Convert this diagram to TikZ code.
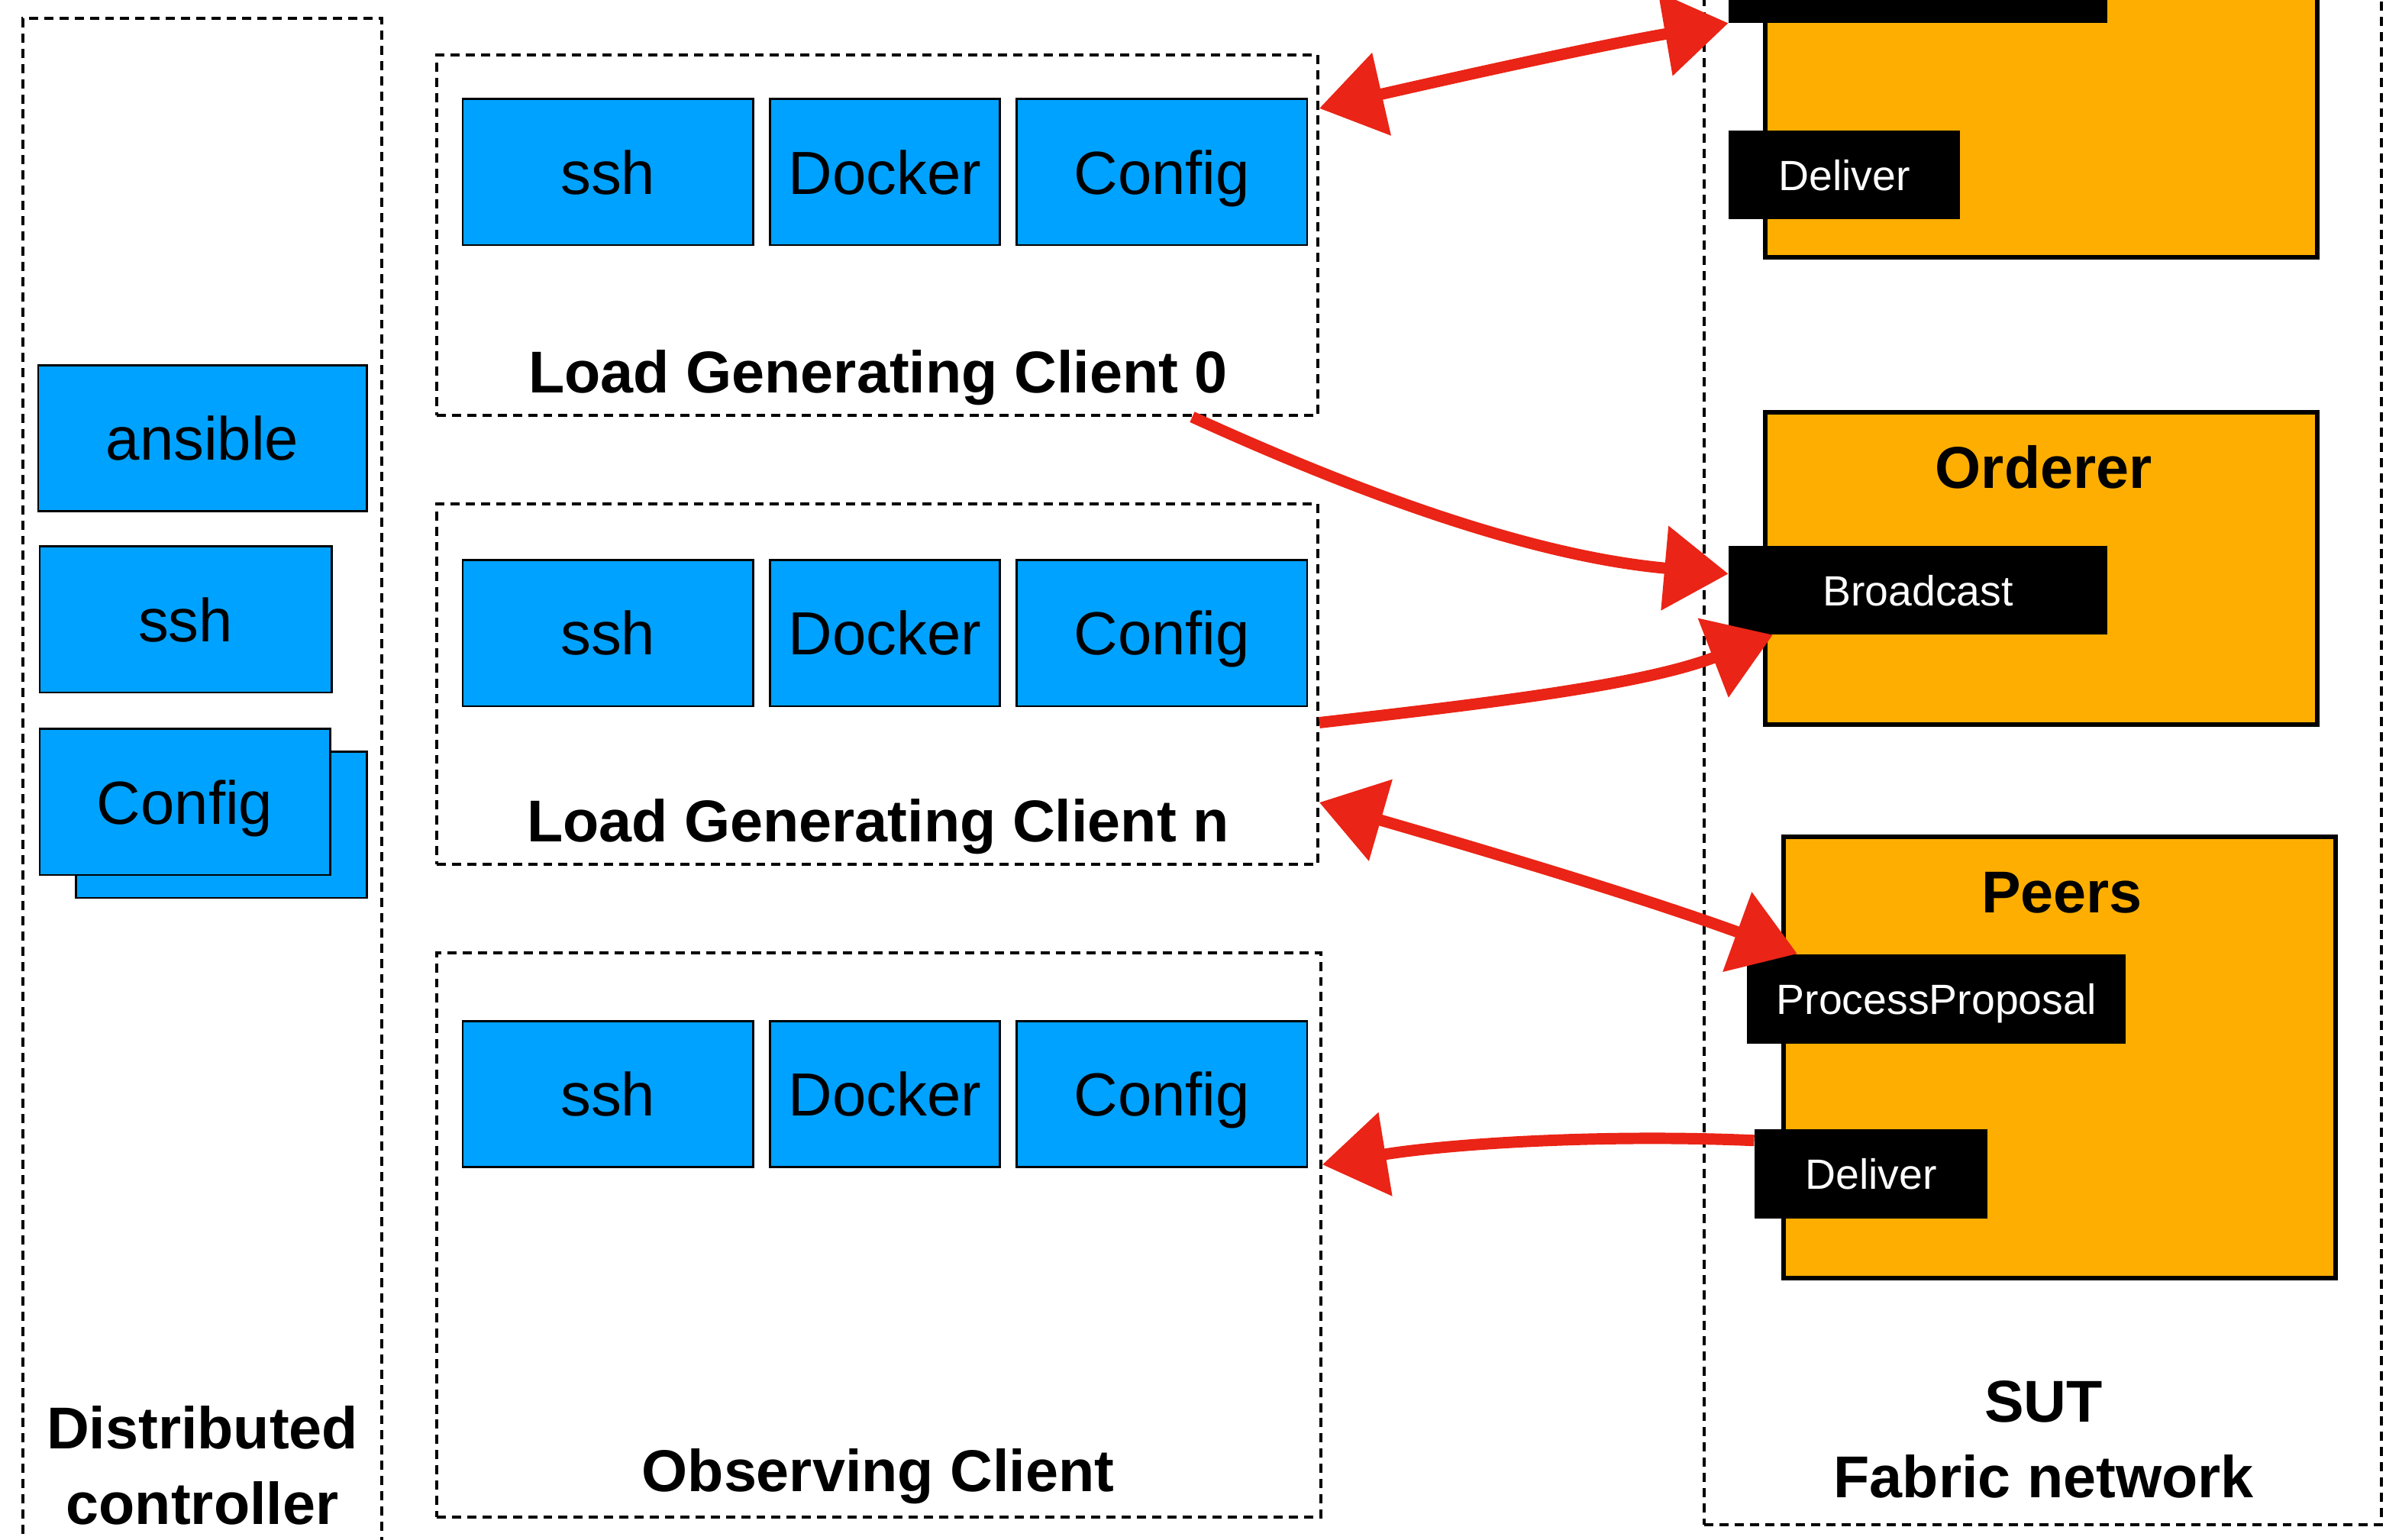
\documentclass[tikz,border=0pt]{standalone}
\usepackage{fontspec}
\setmainfont{Liberation Sans}
\usetikzlibrary{arrows.meta}
\definecolor{toolblue}{RGB}{0,162,255}
\definecolor{fabricorange}{RGB}{254,174,0}
\definecolor{sketchred}{RGB}{234,36,22}

\begin{document}
\begin{tikzpicture}[x=1pt,y=-1pt,
    groupbox/.style={draw,line width=2pt,dash pattern=on 6pt off 4pt,inner sep=0pt},
    toolbox/.style={draw,line width=1.2pt,fill=toolblue,inner sep=0pt,minimum height=96pt,
      text depth=0pt,font=\fontsize{40}{48}\selectfont},
    compbox/.style={draw,line width=3pt,fill=fabricorange,inner sep=0pt},
    apibox/.style={fill=black,text=white,inner sep=0pt,minimum height=59pt,
      text depth=0pt,font=\fontsize{27.8}{33}\selectfont},
    titletext/.style={font=\fontsize{38.8}{50}\selectfont\bfseries,align=center},
    callarrow/.style={sketchred,line width=7.5pt,-{Triangle[length=42pt,width=54pt]}},
    twowayarrow/.style={sketchred,line width=7.5pt,
      {Triangle[length=42pt,width=54pt]}-{Triangle[length=42pt,width=54pt]}}]
      \useasboundingbox (0,0) rectangle (1568,1012);
      \clip (0,0) rectangle (1568,1012);
      % Draw distributed controller
      \node (dc) at (133,526) [groupbox,minimum width=236pt,minimum height=1028pt] {};
      \node (ansible) at (133,288) [toolbox,minimum width=216pt] {ansible};
      \node (dcssh) at (122,407) [toolbox,minimum width=192pt] {ssh};
      \node (dcconfigback) at (145.5,542) [toolbox,minimum width=191pt] {};
      \node (dcconfig) at (121.5,527) [toolbox,minimum width=191pt] {Config};
      \node (dclabel) at (133,963) [titletext] {Distributed\\controller};
      % Draw load generating clients
      \node (lgc0) at (576.5,154.5) [groupbox,minimum width=579pt,minimum height=237pt] {};
      \node (ssh0) at (399.5,113) [toolbox,minimum width=191pt] {ssh};
      \node (docker0) at (581.5,113) [toolbox,minimum width=151pt] {Docker};
      \node (config0) at (763.5,113) [toolbox,minimum width=191pt] {Config};
      \node (lgc0label) at (577,258) [titletext,anchor=base] {Load Generating Client 0};
      \node (lgcn) at (576.5,449.5) [groupbox,minimum width=579pt,minimum height=237pt] {};
      \node (sshn) at (399.5,416) [toolbox,minimum width=191pt] {ssh};
      \node (dockern) at (581.5,416) [toolbox,minimum width=151pt] {Docker};
      \node (confign) at (763.5,416) [toolbox,minimum width=191pt] {Config};
      \node (lgcnlabel) at (577,553) [titletext,anchor=base] {Load Generating Client n};
      % Draw observing client
      \node (oc) at (577.5,811.5) [groupbox,minimum width=581pt,minimum height=371pt] {};
      \node (sshoc) at (399.5,719) [toolbox,minimum width=191pt] {ssh};
      \node (dockeroc) at (581.5,719) [toolbox,minimum width=151pt] {Docker};
      \node (configoc) at (763.5,719) [toolbox,minimum width=191pt] {Config};
      \node (oclabel) at (577,980) [titletext,anchor=base] {Observing Client};
      % Draw SUT
      \node (sut) at (1342.5,486) [groupbox,minimum width=445pt,minimum height=1032pt] {};
      \node (sutlabel) at (1343,946) [titletext] {SUT\\Fabric network};
      \node (peers0) at (1341.5,9.5) [compbox,minimum width=363pt,minimum height=319pt] {};
      \node (pp0) at (1260.5,-14.5) [apibox,minimum width=249pt] {};
      \node (dl0) at (1212,115) [apibox,minimum width=152pt,minimum height=58pt] {Deliver};
      \node (orderer) at (1341.5,373.5) [compbox,minimum width=363pt,minimum height=205pt] {};
      \node (ordererlabel) at (1343,321) [titletext,anchor=base] {Orderer};
      \node (bc) at (1260.5,388) [apibox,minimum width=249pt,minimum height=58pt] {Broadcast};
      \node (peers) at (1353.5,695) [compbox,minimum width=363pt,minimum height=290pt] {};
      \node (peerslabel) at (1355,600) [titletext,anchor=base] {Peers};
      \node (pp) at (1272.5,656.5) [apibox,minimum width=249pt] {ProcessProposal};
      \node (dl) at (1229.5,771.5) [apibox,minimum width=153pt] {Deliver};
      % Draw the calls
      \draw [twowayarrow] (lgc0.16.6) .. controls (960,50) and (1050,30) .. (pp0.south west);
      \draw [callarrow] (lgc0.-30.2) .. controls (880,318) and (1000,365) .. (bc.175);
      \draw [callarrow] (lgcn.-5) .. controls (980,462) and (1080,450) .. (bc.197);
      \draw [twowayarrow] (lgcn.-15.2) .. controls (980,560) and (1080,590) .. (pp.162.3);
      \draw [callarrow] (dl.164.3) .. controls (1050,745) and (950,752) .. (oc.9.1);
    \end{tikzpicture}
\end{document}
